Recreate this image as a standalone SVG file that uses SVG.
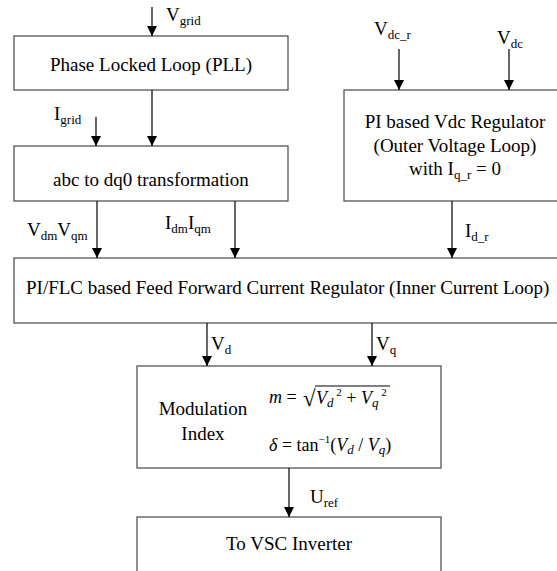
<svg xmlns="http://www.w3.org/2000/svg" width="557" height="571" viewBox="0 0 557 571" font-family="'Liberation Serif', serif">
<style>
text{font-family:"Liberation Serif",serif;fill:#000}
.t{font-size:19px}
.c{text-anchor:middle}
.s{font-size:13px}
.box{fill:#fff;stroke:#555;stroke-width:1.3}
.ar{stroke:#000;stroke-width:1.2;fill:none;marker-end:url(#ah)}
.m{font-style:italic;font-size:18px}
</style>
<defs>
<marker id="ah" markerWidth="10" markerHeight="10" refX="10" refY="5" orient="auto" markerUnits="userSpaceOnUse">
<path d="M0,0 L10,5 L0,10 Z" fill="#000"/>
</marker>
</defs>
<g id="pll">
<rect class="box" x="14" y="36" width="274" height="54"/>
<text class="t c" x="151" y="71">Phase Locked Loop (PLL)</text>
</g>
<g id="abc">
<rect class="box" x="14" y="146" width="274" height="55"/>
<text class="t c" x="151" y="186">abc to dq0 transformation</text>
</g>
<g id="vdcreg">
<rect class="box" x="344" y="90" width="220" height="111"/>
<text class="t c" x="455" y="128">PI based Vdc Regulator</text>
<text class="t c" x="455" y="152">(Outer Voltage Loop)</text>
<text class="t c" x="455" y="175">with I<tspan class="s" dy="4">q_r</tspan><tspan dy="-4"> = 0</tspan></text>
</g>
<g id="flc">
<rect class="box" x="14" y="258" width="550" height="65"/>
<text class="t" x="26" y="294">PI/FLC based Feed Forward Current Regulator (Inner Current Loop)</text>
</g>
<g id="mod">
<rect class="box" x="137" y="366" width="304" height="102"/>
<text class="t c" x="203" y="415">Modulation</text>
<text class="t c" x="203" y="440">Index</text>
<text class="m" x="269" y="403">m<tspan font-style="normal"> = </tspan></text>
<text x="303" y="406" style="font-size:23px">√</text>
<line x1="315" y1="386" x2="390" y2="386" stroke="#000" stroke-width="1"/>
<text class="m" x="316" y="404">V<tspan class="s" dy="3">d</tspan><tspan font-size="11" font-style="normal" dy="-11"> 2</tspan><tspan font-style="normal" dy="8"> + </tspan>V<tspan class="s" dy="3">q</tspan><tspan font-size="11" font-style="normal" dy="-11"> 2</tspan></text>
<text class="m" x="269" y="451" fill="#1a2a5a">δ<tspan font-style="normal" fill="#000"> = tan</tspan><tspan font-size="11" font-style="normal" fill="#000" dy="-8">−1</tspan><tspan font-style="normal" fill="#000" dy="8">(</tspan>V<tspan class="s" dy="3">d</tspan><tspan font-style="normal" dy="-3"> / </tspan>V<tspan class="s" dy="3">q</tspan><tspan font-style="normal" dy="-3">)</tspan></text>
</g>
<g id="vsc">
<rect class="box" x="137" y="517" width="304" height="70"/>
<text class="t c" x="289" y="550">To VSC Inverter</text>
</g>
<g id="connectors">
<line class="ar" x1="152" y1="7" x2="152" y2="36"/>
<line class="ar" x1="152" y1="90" x2="152" y2="146"/>
<line class="ar" x1="96" y1="117" x2="96" y2="146"/>
<line class="ar" x1="399" y1="49" x2="399" y2="90"/>
<line class="ar" x1="509" y1="49" x2="509" y2="90"/>
<line class="ar" x1="97" y1="201" x2="97" y2="258"/>
<line class="ar" x1="235" y1="201" x2="235" y2="258"/>
<line class="ar" x1="452" y1="201" x2="452" y2="258"/>
<line class="ar" x1="207" y1="323" x2="207" y2="366"/>
<line class="ar" x1="372" y1="323" x2="372" y2="366"/>
<line class="ar" x1="289" y1="468" x2="289" y2="517"/>
</g>
<g id="labels">
<text class="t" x="166" y="21">V<tspan class="s" dy="4">grid</tspan></text>
<text class="t" x="54" y="120">I<tspan class="s" dy="4">grid</tspan></text>
<text class="t" x="374" y="35">V<tspan class="s" dy="4">dc_r</tspan></text>
<text class="t" x="497" y="44">V<tspan class="s" dy="4">dc</tspan></text>
<text class="t" x="27" y="236">V<tspan class="s" dy="4">dm</tspan><tspan dy="-4">V</tspan><tspan class="s" dy="4">qm</tspan></text>
<text class="t" x="165" y="229">I<tspan class="s" dy="4">dm</tspan><tspan dy="-4">I</tspan><tspan class="s" dy="4">qm</tspan></text>
<text class="t" x="465" y="237">I<tspan class="s" dy="4">d_r</tspan></text>
<text class="t" x="211" y="350">V<tspan class="s" dy="4">d</tspan></text>
<text class="t" x="376" y="350">V<tspan class="s" dy="4">q</tspan></text>
<text class="t" x="310" y="503">U<tspan class="s" dy="4">ref</tspan></text>
</g>
</svg>
